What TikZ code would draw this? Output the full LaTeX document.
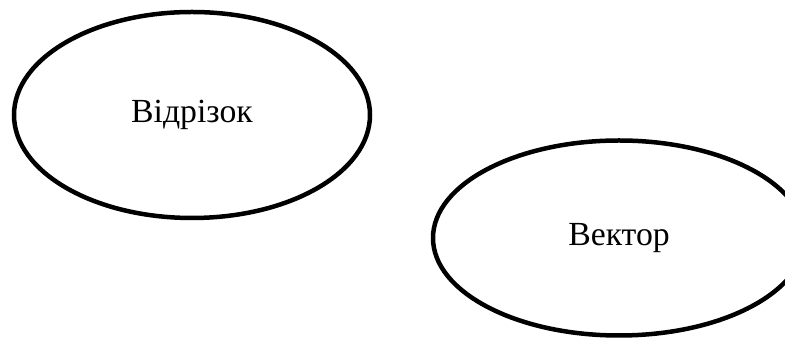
\documentclass[tikz,border=0pt]{standalone}
\usepackage{fontspec}
\setmainfont{Liberation Serif}
\usetikzlibrary{shapes.geometric}

\begin{document}
\begin{tikzpicture}[
    term/.style={ellipse, draw, line width=0.09cm, inner sep=0pt,
        font=\fontsize{19.2}{22}\selectfont}
]
    \useasboundingbox (0,0) rectangle (15.7,6.76);

    % left ellipse
    \node[term, minimum width=7.12cm, minimum height=4.12cm] (segment) at (3.84,4.46) {Відрізок};

    % right ellipse, cut by the right edge
    \node[term, minimum width=7.44cm, minimum height=3.9cm] (vector) at (12.38,2.0) {Вектор};
\end{tikzpicture}
\end{document}
